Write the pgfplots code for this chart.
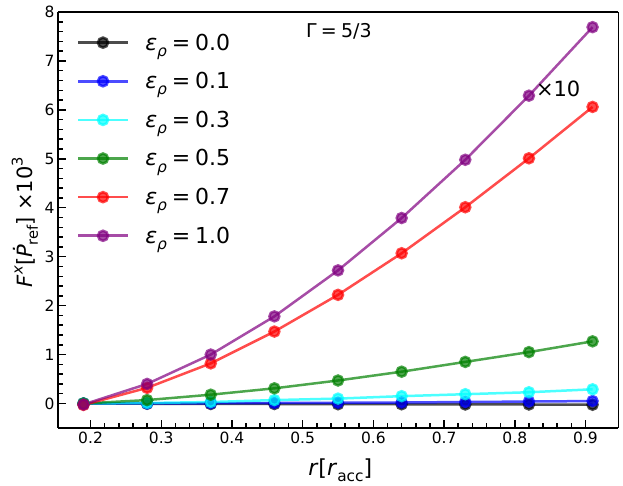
\documentclass[border=0pt]{standalone}
\usepackage{fontspec}
\setmainfont{DejaVu Sans}[ItalicFont={DejaVu Sans Oblique}]
\usepackage{graphicx}
\usepackage{pgfplots}
\pgfplotsset{compat=1.18}

\definecolor{mgreen}{rgb}{0,0.5,0}
\definecolor{mpurple}{rgb}{0.5,0,0.5}
\definecolor{mcyan}{rgb}{0,1,1}
\definecolor{mblue}{rgb}{0,0,1}

\newcommand{\fs}[1]{\fontsize{#1}{#1}\selectfont}
\newcommand{\eps}{\textit{ε}\raisebox{-0.28em}{\scalebox{0.7}{\textit{ρ}}}}
\newcommand{\leg}[1]{\eps\hspace{0.22em}=\hspace{0.22em}#1}

\begin{document}
\begin{tikzpicture}
\begin{axis}[
  scale only axis, width=560pt, height=416pt,
  xmin=0.154, xmax=0.946, ymin=-0.5, ymax=8,
  axis lines=left, axis line style={-, line width=2.5pt},
  clip=false,
  xtick={0.2,0.3,0.4,0.5,0.6,0.7,0.8,0.9},
  ytick={0,1,2,3,4,5,6,7,8},
  xticklabels={0.2,0.3,0.4,0.5,0.6,0.7,0.8,0.9},
  minor x tick num=4, minor y tick num=4,
  tick align=inside,
  major tick length=8pt, minor tick length=4.5pt,
  every tick/.style={line width=1.5pt, black},
  /pgf/number format/assume math mode=true,
  tick label style={font=\fs{15.5}},
  xlabel={\textit{r}[\textit{r}\raisebox{-0.28em}{\scalebox{0.7}{acc}}]},
  xlabel style={at={(rel axis cs:0.504,-0.101)}, anchor=center, font=\fs{22}},
  ylabel={\textit{F}\raisebox{0.45em}{\scalebox{0.7}{\textit{x}}}[\textit{Ṗ}\raisebox{-0.28em}{\scalebox{0.7}{ref}}]\hspace{0.3em}×10\raisebox{0.45em}{\scalebox{0.7}{3}}},
  ylabel style={at={(rel axis cs:-0.059,0.495)}, anchor=center, rotate=0, font=\fs{21}},
  legend cell align=left,
  legend style={at={(rel axis cs:0.033,0.953)}, anchor=north west, draw=none, fill=none,
    font=\fs{22}, row sep=16.8pt, inner xsep=0pt, inner ysep=0pt,
    /tikz/every odd column/.append style={column sep=14pt}},
  legend image code/.code={\draw[mark repeat=2,mark phase=2,#1,line width=2.6pt] plot coordinates {(0pt,0pt) (25pt,0pt) (50pt,0pt)};},
  every axis plot/.append style={line width=2.5pt, mark=*, mark size=5pt, opacity=0.7},
]
\addplot[color=black] coordinates {(0.19,0) (0.28,-0.005) (0.37,-0.01) (0.46,-0.01) (0.55,-0.015) (0.64,-0.015) (0.73,-0.02) (0.82,-0.02) (0.91,-0.025)};
\addlegendentry{\leg{0.0}}
\addplot[color=mblue] coordinates {(0.19,0) (0.28,0.0) (0.37,0.005) (0.46,0.01) (0.55,0.015) (0.64,0.02) (0.73,0.03) (0.82,0.04) (0.91,0.05)};
\addlegendentry{\leg{0.1}}
\addplot[color=mcyan] coordinates {(0.19,0) (0.28,0.01) (0.37,0.03) (0.46,0.07) (0.55,0.10) (0.64,0.15) (0.73,0.19) (0.82,0.23) (0.91,0.29)};
\addlegendentry{\leg{0.3}}
\addplot[color=mgreen] coordinates {(0.19,0) (0.28,0.07) (0.37,0.18) (0.46,0.31) (0.55,0.47) (0.64,0.65) (0.73,0.85) (0.82,1.05) (0.91,1.27)};
\addlegendentry{\leg{0.5}}
\addplot[color=red] coordinates {(0.19,-0.03) (0.28,0.32) (0.37,0.82) (0.46,1.47) (0.55,2.22) (0.64,3.07) (0.73,4.01) (0.82,5.01) (0.91,6.06)};
\addlegendentry{\leg{0.7}}
\addplot[color=mpurple] coordinates {(0.19,-0.02) (0.28,0.40) (0.37,1.00) (0.46,1.78) (0.55,2.72) (0.64,3.79) (0.73,4.98) (0.82,6.29) (0.91,7.69)};
\addlegendentry{\leg{1.0}}
\draw[line width=2.5pt] (rel axis cs:0,1) -- (rel axis cs:1,1);
\draw[line width=1pt] (rel axis cs:1,1) -- (rel axis cs:1,0);
\node[anchor=west, font=\fs{19}] at (axis cs:0.5,7.6) {Γ\hspace{0.22em}=\hspace{0.22em}5/3};
\node[anchor=west, font=\fs{21}] at (axis cs:0.825,6.43) {×10};
\path (rel axis cs:-0.1036,-0.1394) rectangle (rel axis cs:1.0089,1.0288);
\end{axis}
\end{tikzpicture}
\end{document}
